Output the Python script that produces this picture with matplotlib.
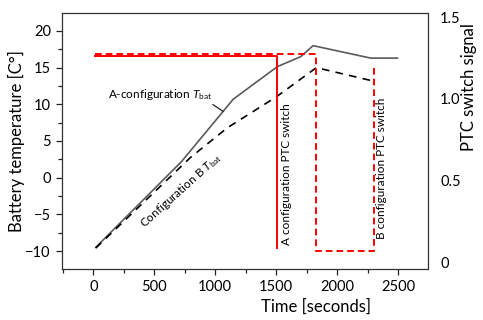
import matplotlib
matplotlib.use("Agg")
import matplotlib.pyplot as plt
from matplotlib.ticker import MultipleLocator, FixedLocator, FixedFormatter

plt.rcParams['font.family'] = ['Lato', 'DejaVu Sans']
plt.rcParams['mathtext.fontset'] = 'custom'
plt.rcParams['mathtext.rm'] = 'Lato'
plt.rcParams['mathtext.it'] = 'Lato:italic'
plt.rcParams['lines.scale_dashes'] = False

# Temperature series (left axis, °C)
time_a = [20, 724, 1148, 1511, 1702, 1803, 2276, 2495]
temp_a = [-9.5, 2.2, 10.7, 15.15, 16.5, 18.0, 16.3, 16.3]
time_b = [20, 800, 1100, 1500, 1830, 2290]
temp_b = [-9.6, 2.8, 6.8, 11.0, 15.0, 13.2]

# PTC switch signals (right axis)
sig_time_a = [10, 1510, 1510]
sig_a = [1.26, 1.26, 0.09]
sig_time_b = [10, 1830, 1830, 2300, 2300]
sig_b = [1.273, 1.273, 0.072, 0.072, 1.21]

x_ticks = [0, 500, 1000, 1500, 2000, 2500]
y_ticks = [-10, -5, 0, 5, 10, 15, 20]
right_ticks = [0, 0.5, 1.0, 1.5]
right_labels = ['0', '0.5', '1.0', '1.5']

W, H = 483, 320
fig = plt.figure(figsize=(W / 100, H / 100), dpi=100)
ax = fig.add_axes([62 / W, 51 / H, 365.5 / W, 256 / H])

ax.plot(time_a, temp_a, color='#5a5a5a', lw=1.2, zorder=3)
ax.plot(time_b, temp_b, color='black', lw=1.2, dashes=(5.5, 4.5), zorder=3)

ax.set_xlim(-257, 2742)
ax.set_ylim(-12.45, 22.45)
ax.xaxis.set_major_locator(FixedLocator(x_ticks))
ax.xaxis.set_minor_locator(MultipleLocator(250))
ax.yaxis.set_major_locator(FixedLocator(y_ticks))
ax.yaxis.set_minor_locator(MultipleLocator(2.5))
ax.tick_params(which='both', direction='out', labelsize=10.5, width=0.9,
               color='#222222', right=True, top=False, left=True, bottom=True)
ax.tick_params(which='major', length=4.5)
ax.tick_params(which='minor', length=3)
for s in ax.spines.values():
    s.set_linewidth(0.9)
    s.set_color('#333333')

ax.set_xlabel('Time [seconds]', fontsize=12)
ax.xaxis.set_label_coords(0.694, -0.115)
ax.set_ylabel('Battery temperature [C°]', fontsize=12)
ax.yaxis.set_label_coords(-0.10, 0.5)

ax2 = ax.twinx()
ax2.set_position(ax.get_position())
ax2.plot(sig_time_a, sig_a, color='#ff0000', lw=1.4, zorder=4)
ax2.plot(sig_time_b, sig_b, color='#ff0000', lw=1.4, dashes=(4.8, 2.9), zorder=4)
ax2.set_ylim(-0.04, 1.526)
ax2.yaxis.set_major_locator(FixedLocator(right_ticks))
ax2.yaxis.set_major_formatter(FixedFormatter(right_labels))
ax2.yaxis.set_minor_locator(FixedLocator([]))
ax2.tick_params(axis='y', length=0, pad=9, labelsize=10.5)
for s in ax2.spines.values():
    s.set_visible(False)
ax2.set_ylabel('PTC switch signal', fontsize=12)
ax2.yaxis.set_label_coords(1.092, 0.71)

# Annotations
ax.annotate(r'A-configuration $T_{\rm bat}$', xy=(1066, 9.03), xytext=(123, 11.37),
            fontsize=8.5, ha='left', va='center',
            arrowprops=dict(arrowstyle='-', color='#222222', lw=0.9,
                            shrinkA=0, shrinkB=0, relpos=(0.93, 0.15)))
ax.text(717, -1.79, r'Configuration B $T_{\rm bat}$', fontsize=8.5, rotation=42,
        rotation_mode='anchor', ha='center', va='center')
ax.text(1588, 0.5, 'A configuration PTC switch', fontsize=8.5, rotation=90,
        ha='center', va='center')
ax.text(2364, 1.3, 'B configuration PTC switch', fontsize=8.5, rotation=90,
        ha='center', va='center')

fig.savefig('out.png', dpi=100)
